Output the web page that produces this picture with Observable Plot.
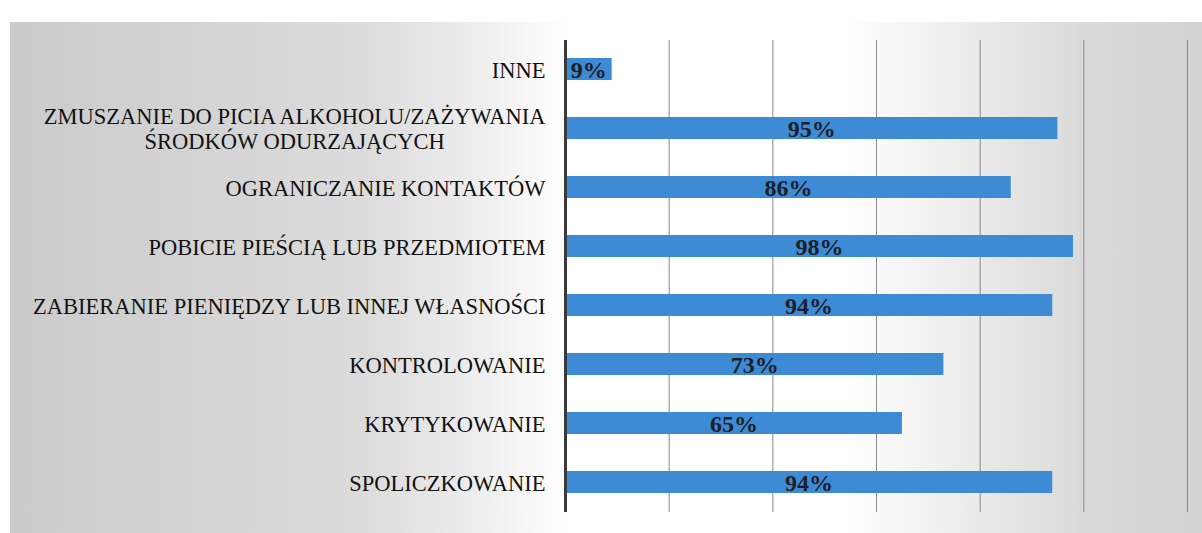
<!DOCTYPE html>
<html>
<head>
<meta charset="utf-8">
<script src="https://cdn.jsdelivr.net/npm/d3@7"></script>
<script src="https://cdn.jsdelivr.net/npm/@observablehq/plot@0.6"></script>
<style>
  html, body { margin: 0; padding: 0; background: #ffffff; }
  #wrap { position: relative; width: 1202px; height: 533px; overflow: hidden; }
  #bg { position: absolute; left: 10px; top: 22px; right: 0; bottom: 0;
        background: linear-gradient(to right, #cbcbcb 0%, #d3d3d3 15%, #dcdcdc 30%, #efefef 40%, #ffffff 47%, #ffffff 70%, #ececec 80%, #dadada 90%, #d2d2d2 100%); }
  #chart { position: absolute; left: 0; top: 0; }
  #chart svg, #chart svg text { font-family: "Liberation Serif", "Times New Roman", serif !important; }
</style>
</head>
<body>
<div id="wrap"><div id="bg"></div><div id="chart"></div></div>
<script>
const categories = [
  "INNE",
  "ZMUSZANIE DO PICIA ALKOHOLU/ZAŻYWANIA\nŚRODKÓW ODURZAJĄCYCH",
  "OGRANICZANIE KONTAKTÓW",
  "POBICIE PIEŚCIĄ LUB PRZEDMIOTEM",
  "ZABIERANIE PIENIĘDZY LUB INNEJ WŁASNOŚCI",
  "KONTROLOWANIE",
  "KRYTYKOWANIE",
  "SPOLICZKOWANIE"
];
const values = [9, 95, 86, 98, 94, 73, 65, 94];
const gridTicks = [20, 40, 60, 80, 100, 120];

const data = categories.map((c, i) => ({category: c, value: values[i]}));

const chart = Plot.plot({
  width: 1202,
  height: 533,
  marginLeft: 565,
  marginRight: 15,
  marginTop: 40,
  marginBottom: 21,
  style: {background: "transparent"},
  x: {domain: [0, 120], axis: null},
  y: {domain: categories, paddingInner: 0.62, paddingOuter: 0.31, label: null, axis: null},
  marks: [
    Plot.gridX(gridTicks, {stroke: "#8a8a8a", strokeOpacity: 1, strokeWidth: 1}),
    Plot.barX(data, {x: "value", y: "category", fill: "#3d8bd5"}),
    Plot.text(data, {x: d => d.value / 2, y: "category", text: d => d.value + "%",
      fontWeight: "bold", fontSize: 24, fill: "#1e1e28", dy: 1}),
    Plot.ruleX([0], {stroke: "#3a3a3a", strokeWidth: 3}),
    Plot.axisY({tickSize: 0, tickPadding: 20, fontSize: 22.5, fill: "#111111", label: null, lineHeight: 1.12})
  ]
});
document.getElementById("chart").appendChild(chart);

// center multi-line labels within their block (as in the original)
chart.querySelectorAll("text").forEach(t => {
  const spans = t.querySelectorAll("tspan");
  if (spans.length > 1) {
    let maxW = 0;
    spans.forEach(s => { maxW = Math.max(maxW, s.getComputedTextLength()); });
    t.setAttribute("text-anchor", "middle");
    spans.forEach(s => { s.setAttribute("x", -maxW / 2); });
  }
});
</script>
</body>
</html>
